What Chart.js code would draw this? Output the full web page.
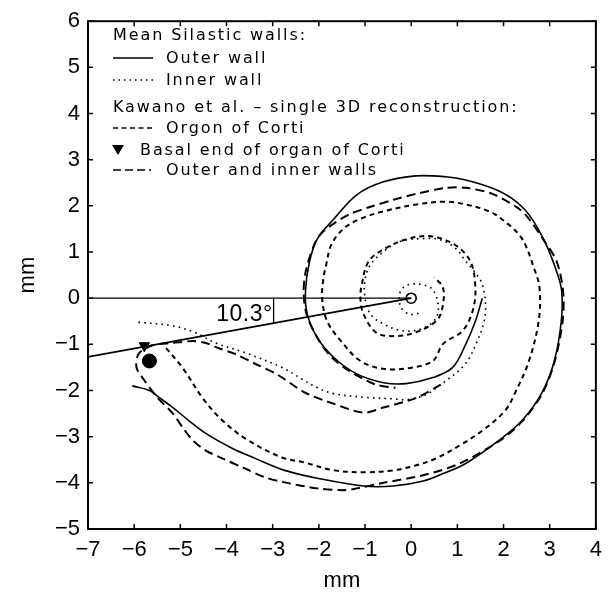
<!DOCTYPE html>
<html><head><meta charset="utf-8">
<script src="https://cdn.jsdelivr.net/npm/chart.js@4/dist/chart.umd.min.js"></script>
<style>html,body{margin:0;padding:0;background:#fff}#wrap{width:610px;height:594px}</style>
</head><body><div id="wrap"><canvas id="c" width="610" height="594"></canvas></div>
<script>
// ---- tick values ----
const xTickValues = [-7,-6,-5,-4,-3,-2,-1,0,1,2,3,4];
const yTickValues = [-5,-4,-3,-2,-1,0,1,2,3,4,5,6];

// ---- Mean Silastic outer wall (solid) ----
const outerWallX = [-6.04,-5.67,-5.46,-5.16,-4.82,-4.45,-3.88,-3.38,-2.74,-2.03,-1.03,-0.39,0.26,0.69,1.18,1.90,2.40,2.83,3.10,3.25,3.26,3.15,2.89,2.55,2.18,1.76,1.18,0.75,0.10,-0.60,-1.18,-1.67,-2.03,-2.20,-2.29,-2.25,-2.03,-1.67,-1.18,-0.60,-0.11,0.47,0.90,1.18,1.39,1.54];
const outerWallY = [-1.90,-2.00,-2.15,-2.37,-2.65,-2.93,-3.25,-3.47,-3.73,-3.90,-4.07,-4.07,-3.96,-3.80,-3.58,-3.08,-2.65,-2.05,-1.36,-0.50,0.15,0.58,1.23,1.81,2.16,2.38,2.56,2.63,2.65,2.52,2.24,1.72,1.29,0.80,0.15,-0.35,-0.86,-1.29,-1.64,-1.83,-1.85,-1.72,-1.50,-1.00,-0.50,0.00];

// ---- Mean Silastic inner wall (dotted) ----
const innerWallX = [-5.91,-5.16,-4.67,-4.24,-3.60,-2.80,-2.42,-2.03,-1.67,-0.96,-0.39,-0.11,0.30,0.64,1.16,1.43,1.58,1.61,1.54,1.39,1.18,0.96,0.62,0.26,-0.24,-0.60,-0.88,-1.00,-1.00,-0.88,-0.60,-0.17,0.26,0.54,0.58,0.45,0.20,-0.10,-0.25,-0.22,-0.02,0.25];
const innerWallY = [-0.52,-0.60,-0.75,-0.97,-1.18,-1.50,-1.72,-1.94,-2.07,-2.15,-2.18,-2.20,-2.10,-1.87,-1.44,-0.93,-0.50,-0.14,0.30,0.55,0.80,1.08,1.27,1.29,1.23,1.01,0.73,0.40,0.00,-0.35,-0.56,-0.71,-0.65,-0.43,-0.10,0.20,0.30,0.28,0.10,-0.20,-0.35,-0.30];

// ---- Kawano: organ of Corti (short dash) ----
const cortiX = [-5.31,-4.95,-4.52,-4.09,-3.53,-2.80,-2.31,-1.67,-0.96,-0.39,0.11,0.54,1.05,1.54,2.03,2.25,2.55,2.76,2.78,2.66,2.40,2.03,1.69,1.18,0.75,0.11,-0.60,-1.10,-1.46,-1.73,-1.84,-1.90,-1.93,-1.82,-1.52,-1.10,-0.60,-0.02,0.47,0.69,1.11,1.33,1.39,1.28,0.94,0.43,-0.06,-0.56,-0.92,-1.07,-1.10,-1.03,-0.75,-0.32,0.15,0.58,0.70,0.68,0.50];
const cortiY = [-1.08,-1.51,-2.16,-2.65,-3.08,-3.45,-3.56,-3.73,-3.77,-3.73,-3.62,-3.47,-3.19,-2.87,-2.44,-2.05,-1.36,-0.50,0.22,0.65,1.29,1.66,1.88,2.03,2.09,2.03,1.88,1.72,1.51,1.16,0.73,0.43,0.00,-0.50,-0.93,-1.36,-1.53,-1.51,-1.36,-0.99,-0.71,-0.28,0.22,0.80,1.16,1.34,1.29,1.08,0.80,0.30,0.00,-0.35,-0.75,-0.82,-0.72,-0.45,-0.05,0.25,0.45];

// ---- Kawano: outer and inner walls (long dash) ----
const kawanoWallX = [0.64,0.11,-0.60,-1.03,-1.67,-2.31,-2.89,-3.38,-3.81,-4.18,-4.45,-4.73,-5.16,-5.60,-5.90,-5.95,-5.80,-5.50,-5.16,-4.95,-4.73,-4.45,-4.09,-3.60,-3.17,-2.74,-2.03,-1.46,-1.18,-0.60,0.32,1.05,1.90,2.40,2.83,3.10,3.28,3.29,3.15,2.89,2.55,2.33,1.76,1.18,0.75,0.11,-0.39,-0.88,-1.31,-1.67,-1.95,-2.10,-2.28,-2.33,-2.25,-1.99,-1.71,-1.35,-0.77,-0.34];
const kawanoWallY = [-1.87,-2.16,-2.37,-2.48,-2.29,-2.04,-1.66,-1.42,-1.21,-1.08,-0.97,-0.93,-0.97,-1.02,-1.20,-1.50,-1.75,-2.15,-2.50,-2.80,-3.08,-3.30,-3.47,-3.69,-3.88,-3.99,-4.12,-4.16,-4.12,-4.00,-3.82,-3.58,-3.10,-2.67,-2.08,-1.40,-0.50,0.15,0.80,1.23,1.72,1.94,2.26,2.39,2.39,2.26,2.13,1.98,1.83,1.62,1.40,1.16,0.60,0.10,-0.40,-0.93,-1.29,-1.57,-1.87,-1.94];

// ---- reference lines and markers ----
const angleDeg = 10.3;
const horizLineX = [-7, 0];
const horizLineY = [0, 0];
const angleLineX = [-7, 0];
const angleLineY = [-7 * Math.tan(angleDeg * Math.PI / 180), 0];
const angleMarkX = [-2.98, -2.98];
const angleMarkY = [0, -2.98 * Math.tan(angleDeg * Math.PI / 180)];
const basalEndX = [-5.78]; const basalEndY = [-1.03];
const dotX = [-5.67]; const dotY = [-1.36];
const originX = [0]; const originY = [0];
const angleLabel = '10.3°';

function pts(xs, ys) { return xs.map((x, i) => ({x: x, y: ys[i]})); }
const minus = v => String(v).replace('-', '\u2212');

const legendLines = [
  {text: 'Mean Silastic walls:', x: 113, y: 40},
  {text: 'Outer wall', x: 166, y: 63, sample: 'solid'},
  {text: 'Inner wall', x: 166, y: 85, sample: 'dot'},
  {text: 'Kawano et al. \u2013 single 3D reconstruction:', x: 113, y: 112},
  {text: 'Orgon of Corti', x: 166, y: 133, sample: 'short'},
  {text: 'Basal end of organ of Corti', x: 140, y: 155, sample: 'tri'},
  {text: 'Outer and inner walls', x: 166, y: 175, sample: 'long'}
];

const framePlugin = {
  id: 'frame',
  afterDraw(chart) {
    const ctx = chart.ctx, a = chart.chartArea, xs = chart.scales.x, ys = chart.scales.y;
    ctx.save();
    ctx.strokeStyle = '#000';
    ctx.lineWidth = 2;
    ctx.strokeRect(a.left, a.top, a.right - a.left, a.bottom - a.top);
    ctx.lineWidth = 1.5;
    const tl = 5;
    ctx.beginPath();
    xTickValues.forEach(v => {
      const p = xs.getPixelForValue(v);
      ctx.moveTo(p, a.bottom); ctx.lineTo(p, a.bottom - tl);
      ctx.moveTo(p, a.top); ctx.lineTo(p, a.top + tl);
    });
    yTickValues.forEach(v => {
      const p = ys.getPixelForValue(v);
      ctx.moveTo(a.left, p); ctx.lineTo(a.left + tl, p);
      ctx.moveTo(a.right, p); ctx.lineTo(a.right - tl, p);
    });
    ctx.stroke();

    // angle label
    ctx.fillStyle = '#000';
    ctx.font = '23px "Liberation Sans", Arial, sans-serif';
    ctx.letterSpacing = '0.5px';
    ctx.textAlign = 'right';
    ctx.textBaseline = 'alphabetic';
    ctx.fillText(angleLabel, xs.getPixelForValue(-3.0), ys.getPixelForValue(-0.5));

    // legend
    ctx.font = '16px "DejaVu Sans", sans-serif';
    ctx.letterSpacing = '1.9px';
    ctx.textAlign = 'left';
    legendLines.forEach(l => {
      ctx.fillText(l.text, l.x, l.y);
      const my = l.y - 5;
      ctx.lineWidth = 1.5;
      if (l.sample === 'solid') { ctx.setLineDash([]); ctx.beginPath(); ctx.moveTo(113, my); ctx.lineTo(153, my); ctx.stroke(); }
      if (l.sample === 'dot') { ctx.setLineDash([1.5, 4]); ctx.beginPath(); ctx.moveTo(113, my); ctx.lineTo(153, my); ctx.stroke(); }
      if (l.sample === 'short') { ctx.setLineDash([5, 3.5]); ctx.beginPath(); ctx.moveTo(113, my); ctx.lineTo(153, my); ctx.stroke(); }
      if (l.sample === 'long') { ctx.setLineDash([8, 4, 8, 4, 8, 4, 2, 4]); ctx.beginPath(); ctx.moveTo(113, my); ctx.lineTo(153, my); ctx.stroke(); }
      if (l.sample === 'tri') {
        ctx.setLineDash([]);
        ctx.beginPath(); ctx.moveTo(112, my - 5); ctx.lineTo(124, my - 5); ctx.lineTo(118, my + 5); ctx.closePath(); ctx.fill();
      }
    });
    ctx.restore();
  }
};

const lineDs = (data, dash, width, tension) => ({
  data: data, showLine: true, pointRadius: 0, borderColor: '#000', backgroundColor: '#000',
  borderWidth: width, borderDash: dash, tension: tension, fill: false
});

new Chart(document.getElementById('c'), {
  type: 'scatter',
  data: {
    datasets: [
      lineDs(pts(horizLineX, horizLineY), [], 1.3, 0),
      lineDs(pts(angleLineX, angleLineY), [], 1.8, 0),
      lineDs(pts(angleMarkX, angleMarkY), [], 1.3, 0),
      lineDs(pts(outerWallX, outerWallY), [], 1.6, 0.35),
      lineDs(pts(innerWallX, innerWallY), [1.6, 4.2], 1.6, 0.35),
      lineDs(pts(cortiX, cortiY), [5, 4], 2, 0.35),
      lineDs(pts(kawanoWallX, kawanoWallY), [9, 5], 2, 0.3),
      {data: pts(basalEndX, basalEndY), pointStyle: 'triangle', rotation: 180, pointRadius: 6, backgroundColor: '#000', borderColor: '#000', borderWidth: 1},
      {data: pts(dotX, dotY), pointStyle: 'circle', pointRadius: 7, backgroundColor: '#000', borderColor: '#000', borderWidth: 1},
      {data: pts(originX, originY), pointStyle: 'circle', pointRadius: 5, backgroundColor: '#fff', borderColor: '#000', borderWidth: 1.6}
    ]
  },
  options: {
    responsive: false, animation: false, devicePixelRatio: 1,
    layout: {padding: {top: 19, right: 8, left: 0, bottom: 0}},
    plugins: {legend: {display: false}, tooltip: {enabled: false}},
    scales: {
      x: {
        type: 'linear', min: -7, max: 4,
        afterBuildTicks: s => { s.ticks = xTickValues.map(v => ({value: v})); },
        afterFit: s => { s.height = 65; },
        grid: {display: false, drawTicks: false}, border: {display: false},
        ticks: {color: '#000', padding: 8, font: {family: '"Liberation Sans", Arial, sans-serif', size: 22}, callback: v => minus(v), maxRotation: 0, autoSkip: false},
        title: {display: true, text: 'mm', color: '#000', font: {family: '"Liberation Sans", Arial, sans-serif', size: 22}, padding: {top: 1, bottom: 0}}
      },
      y: {
        type: 'linear', min: -5, max: 6,
        afterBuildTicks: s => { s.ticks = yTickValues.map(v => ({value: v})); },
        afterFit: s => { s.width = 88; },
        grid: {display: false, drawTicks: false}, border: {display: false},
        ticks: {color: '#000', padding: 8, font: {family: '"Liberation Sans", Arial, sans-serif', size: 22}, callback: v => minus(v), autoSkip: false},
        title: {display: true, text: 'mm', color: '#000', font: {family: '"Liberation Sans", Arial, sans-serif', size: 22}, padding: {top: 15, bottom: 0}}
      }
    }
  },
  plugins: [framePlugin]
});
</script></body></html>
